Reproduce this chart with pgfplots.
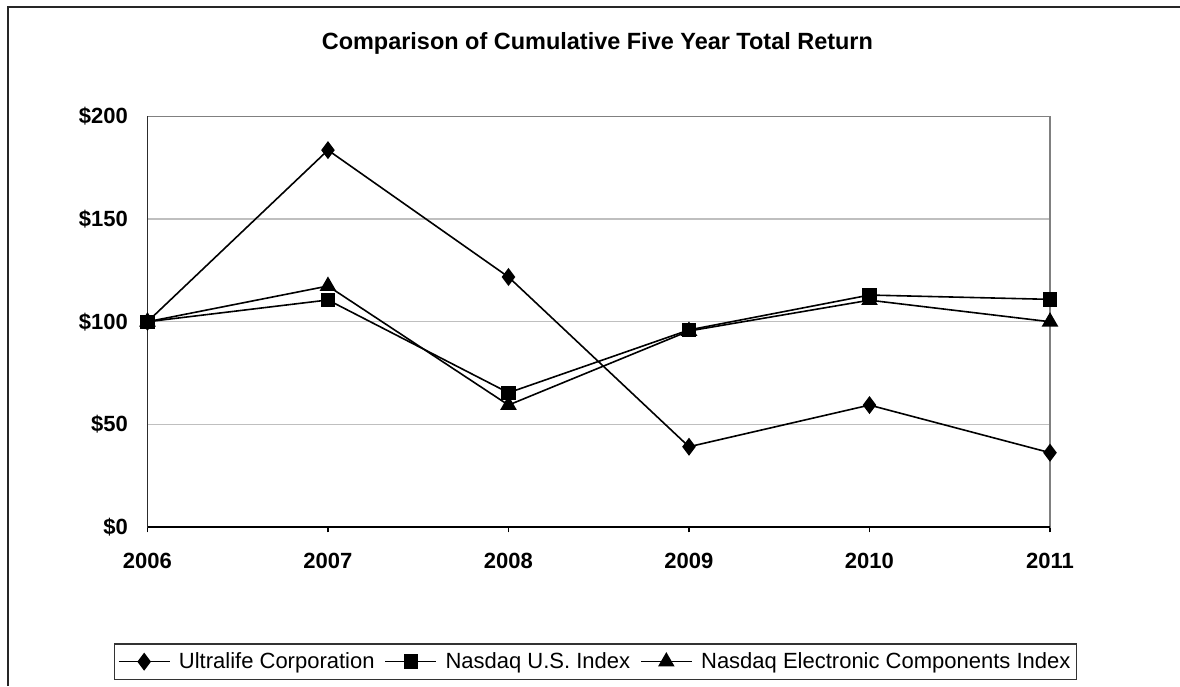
\documentclass[border=0pt]{standalone}
\usepackage{fontspec}
\setmainfont{Liberation Sans}
\usepackage{pgfplots}
\pgfplotsset{compat=1.18}
\begin{document}
\begin{tikzpicture}
% page: 1180x686 px at 0.75pt per px, axis origin at (147.5,527) px
\useasboundingbox (-110.6pt,-119.25pt) rectangle (774.4pt,395.25pt);
\draw[line width=1.3pt, black!85] (-104.6pt,-119.25pt) -- (-104.6pt,390pt) -- (774.4pt,390pt);
\begin{axis}[
  at={(0pt,0pt)}, anchor=origin,
  scale only axis,
  width=676.9pt, height=307.9pt,
  xmin=2006, xmax=2011,
  ymin=0, ymax=200,
  xtick={2006,...,2011},
  ytick={0,50,100,150,200},
  /pgf/number format/assume math mode=true,
  xticklabel style={/pgf/number format/1000 sep={}, font=\bfseries\fontsize{16.5}{18}\selectfont,
    anchor=center, inner sep=0pt, yshift=-21.5pt},
  yticklabel={\$\pgfmathprintnumber{\tick}},
  yticklabel style={font=\bfseries\fontsize{16.5}{18}\selectfont, anchor=east, inner sep=0pt, xshift=-10.5pt},
  xtick style={draw=black, line width=1.1pt},
  ytick style={draw=none},
  tick align=outside,
  major tick length=4pt,
  xtick pos=bottom,
  ymajorgrids,
  grid style={draw=black!25, line width=1pt},
  axis line style={draw=black!50, line width=1.3pt},
  every axis title shift=0pt,
  title={Comparison of Cumulative Five Year Total Return},
  title style={font=\bfseries\fontsize{17.6}{20}\selectfont, at={(0.4985,1)}, anchor=center, yshift=55pt},
  legend style={at={(0.4965,0)}, anchor=center, yshift=-101pt, legend columns=3, draw=black!80,
    line width=1pt,
    font=\fontsize{16.5}{18}\selectfont, inner xsep=2.5pt, inner ysep=4.5pt,
    /tikz/every odd column/.append style={column sep=4.5pt},
    /tikz/every even column/.append style={column sep=5.5pt}},
  legend image code/.code={\draw[mark repeat=2, mark phase=2] plot coordinates {(0pt,0pt) (19pt,0pt) (38pt,0pt)};},
  every axis plot/.append style={black, line width=1.2pt, mark options={solid, fill=black}},
]
\addplot[mark=diamond*, mark size=5.8pt] coordinates {(2006,100) (2007,183.6) (2008,121.8) (2009,39.1) (2010,59.4) (2011,36.2)};
\addplot[mark=square*, mark size=4.8pt] coordinates {(2006,100) (2007,110.6) (2008,65.4) (2009,96) (2010,113) (2011,110.9)};
\addplot[mark=triangle*, mark size=6pt] coordinates {(2006,100) (2007,117.4) (2008,59.4) (2009,95.5) (2010,110.5) (2011,100)};
\legend{Ultralife Corporation, Nasdaq U.S. Index, Nasdaq Electronic Components Index}
\draw[black, line width=1.4pt] (rel axis cs:0,1) -- (rel axis cs:0,0) -- (rel axis cs:1,0);
\end{axis}
\end{tikzpicture}
\end{document}
